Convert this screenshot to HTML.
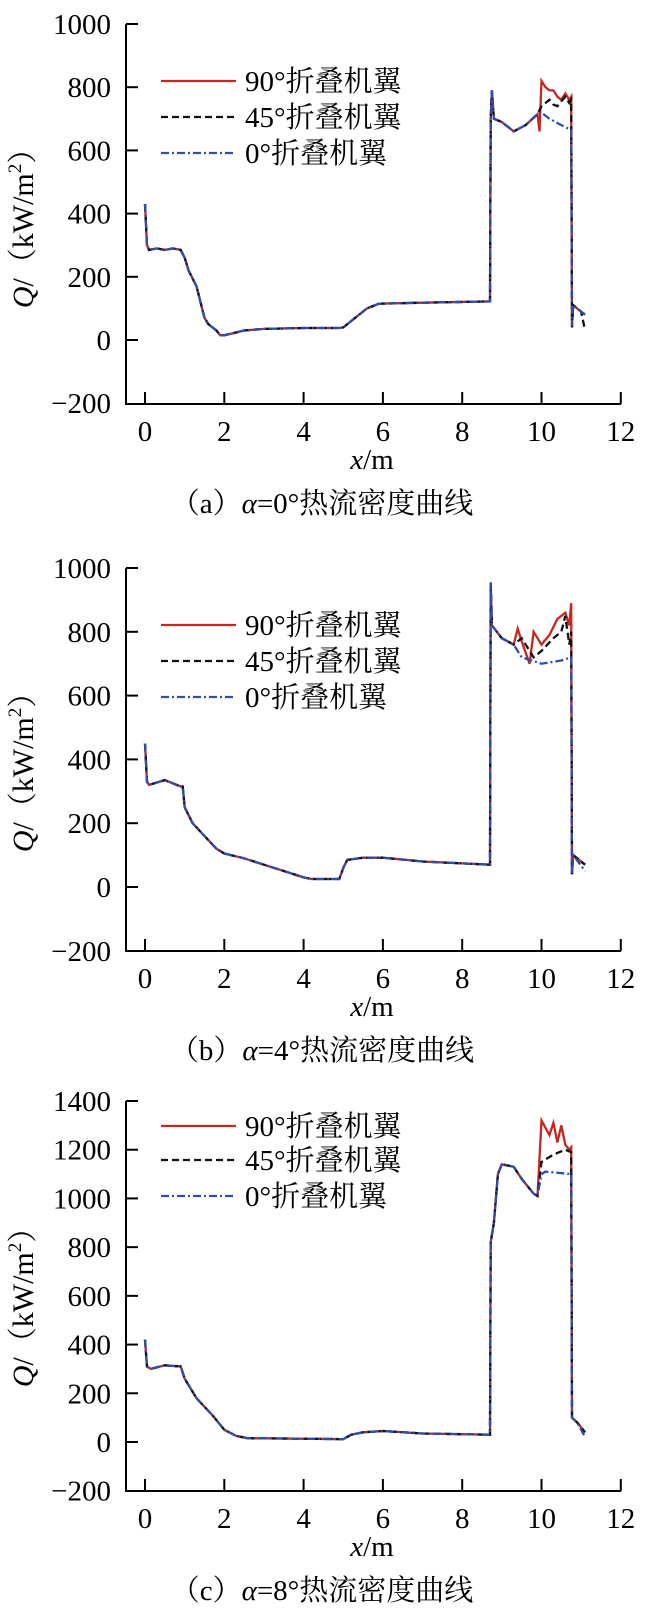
<!DOCTYPE html>
<html><head><meta charset="utf-8"><style>
body{margin:0;background:#fff}
svg{display:block}
text{font-family:"Liberation Serif","Noto Serif CJK SC",serif;fill:#000}
</style></head><body>
<svg id="s" width="645" height="1622" xmlns="http://www.w3.org/2000/svg"></svg>
<script>
const S=document.getElementById('s');let h='';
const panels=[
{top:568,zero:887,bot:951,ymin:-200,ymax:1000,step:200,yc:221,cap:'a',al:'0',
 common:[[0,430],[0.05,300],[0.1,285],[0.3,290],[0.5,285],[0.7,290],[0.9,285],[1.0,260],[1.1,220],[1.3,170],[1.5,70],[1.6,50],[1.8,30],[1.9,15],[2.0,15],[2.5,30],[3,35],[4,38],[4.9,38],[5.0,40],[5.3,70],[5.6,100],[5.9,115],[7,118],[8.7,122],[8.72,700],[8.75,790],[8.8,700],[9.0,690],[9.3,660],[9.6,680],[9.9,715]],
 red:[[9.95,660],[10.0,820],[10.1,800],[10.2,790],[10.3,790],[10.4,770],[10.5,760],[10.6,780],[10.7,760],[10.75,770],[10.77,50],[10.8,110],[11.0,90],[11.1,80]],
 blk:[[10.0,740],[10.1,750],[10.2,760],[10.3,745],[10.4,740],[10.5,755],[10.6,770],[10.7,750],[10.75,760],[10.77,40],[10.8,110],[11.0,90],[11.1,30]],
 blu:[[10.0,720],[10.2,700],[10.5,680],[10.75,665],[10.77,45],[10.8,110],[11.0,90],[11.1,80]]},
{top:568,zero:887,bot:951,ymin:-200,ymax:1000,step:200,yc:765,cap:'b',al:'4',
 common:[[0,450],[0.05,330],[0.1,320],[0.5,335],[0.9,315],[0.95,315],[1.0,250],[1.2,200],[1.5,160],[1.8,120],[2.0,105],[2.5,90],[3,70],[3.5,50],[4,30],[4.2,25],[4.9,25],[5.0,60],[5.1,85],[5.5,92],[6,92],[7,80],[8.7,70],[8.72,955],[8.75,820],[9.0,780],[9.3,760]],
 red:[[9.4,810],[9.5,770],[9.7,700],[9.8,800],[10,760],[10.2,790],[10.4,840],[10.6,860],[10.7,820],[10.75,890],[10.77,40],[10.8,100],[11.1,70]],
 blk:[[9.5,780],[9.8,720],[10,740],[10.3,780],[10.5,800],[10.6,850],[10.7,760],[10.75,800],[10.77,40],[10.8,100],[11.1,70]],
 blu:[[9.5,720],[10,700],[10.5,710],[10.75,720],[10.77,40],[10.8,100],[11.1,50]]},
{top:1101,zero:1442,bot:1491,ymin:-200,ymax:1400,step:200,yc:1300,cap:'c',al:'8',
 common:[[0,420],[0.05,310],[0.15,300],[0.5,315],[0.9,310],[1.0,260],[1.3,180],[1.7,110],[2.0,50],[2.3,25],[2.6,15],[3,15],[4.9,12],[5.0,12],[5.2,30],[5.5,40],[6,45],[7,35],[8.7,30],[8.72,820],[8.8,900],[8.9,1100],[9.0,1140],[9.3,1130],[9.5,1080],[9.8,1020],[9.9,1010]],
 red:[[10.0,1320],[10.1,1290],[10.2,1260],[10.3,1310],[10.4,1230],[10.5,1300],[10.6,1220],[10.7,1200],[10.75,1210],[10.77,100],[10.9,80],[11.1,40]],
 blk:[[10.0,1150],[10.3,1180],[10.6,1200],[10.75,1190],[10.77,100],[10.9,80],[11.1,40]],
 blu:[[10.0,1100],[10.1,1110],[10.75,1100],[10.77,100],[10.9,80],[11.1,20]]}];
panels[0].top=24;panels[0].zero=340;panels[0].bot=404;
const X0=145,XS=79.3/2,YAX=126;
panels.forEach((p,i)=>{
 const ps=(p.zero-p.top)/p.ymax;
 const Y=v=>p.zero-v*ps, X=v=>X0+v*XS;
 h+=`<path d="M${YAX} ${p.top}V${p.bot}H621" fill="none" stroke="#000" stroke-width="2"/>`;
 for(let v=p.ymin;v<=p.ymax;v+=p.step){const y=Y(v);
  if(v>p.ymin)h+=`<line x1="${YAX}" y1="${y}" x2="${YAX+12}" y2="${y}" stroke="#000" stroke-width="2"/>`;
  h+=`<text x="111" y="${y+10}" font-size="29" text-anchor="end">${v<0?'\u2212'+(-v):v}</text>`;}
 for(let k=0;k<=12;k+=2){const x=X(k);
  h+=`<line x1="${x}" y1="${p.bot}" x2="${x}" y2="${p.bot-12}" stroke="#000" stroke-width="2"/>`;
  h+=`<text x="${x}" y="${p.bot+37}" font-size="29" text-anchor="middle">${k}</text>`;}
 h+=`<text x="372" y="${p.bot+65}" font-size="29" text-anchor="middle"><tspan font-style="italic">x</tspan>/m</text>`;
 h+=`<text x="322" y="${p.bot+109}" font-size="29" text-anchor="middle">（${p.cap}）<tspan font-style="italic">α</tspan>=${p.al}°热流密度曲线</text>`;
 h+=`<text transform="translate(33 ${p.yc}) rotate(-90)" font-size="30" text-anchor="middle"><tspan font-style="italic">Q</tspan>/（kW/m<tspan font-size="19" dy="-12">2</tspan><tspan dy="12">）</tspan></text>`;
 const pts=a=>a.map(q=>X(q[0]).toFixed(1)+','+Y(q[1]).toFixed(1)).join(' ');
 h+=`<polyline points="${pts(p.common.concat(p.red))}" fill="none" stroke="#c8261f" stroke-width="2.3"/>`;
 h+=`<polyline points="${pts(p.common.concat(p.blk))}" fill="none" stroke="#111" stroke-width="2.3" stroke-dasharray="7 4"/>`;
 h+=`<polyline points="${pts(p.common.concat(p.blu))}" fill="none" stroke="#2a4fb0" stroke-width="2.3" stroke-dasharray="8 3 2 3"/>`;
 const ly=[p.top+57,p.top+93,p.top+129];
 if(i==2){ly[0]=1126;ly[1]=1160;ly[2]=1196;}
 const st=[['#c8261f',''],['#111','7 4'],['#2a4fb0','8 3 2 3']];
 const lb=['90°折叠机翼','45°折叠机翼','0°折叠机翼'];
 for(let j=0;j<3;j++){
  h+=`<line x1="161" y1="${ly[j]}" x2="236" y2="${ly[j]}" stroke="${st[j][0]}" stroke-width="2.3" ${st[j][1]?`stroke-dasharray="${st[j][1]}"`:''}/>`;
  h+=`<text x="245" y="${ly[j]+10}" font-size="29">${lb[j]}</text>`;}
});
S.innerHTML=h;
</script>
</body></html>
